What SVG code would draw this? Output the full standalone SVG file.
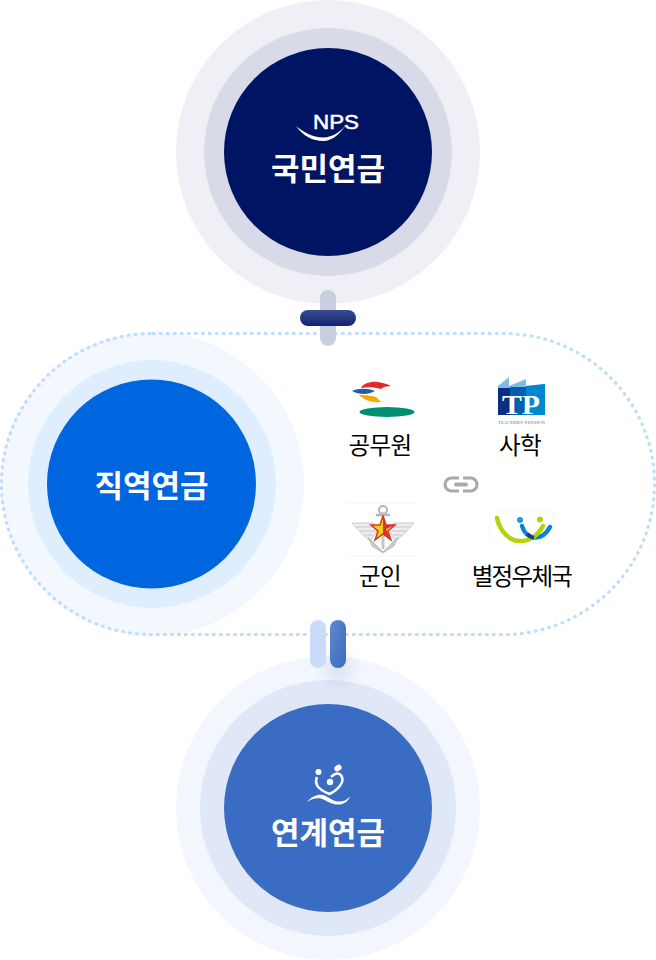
<svg xmlns="http://www.w3.org/2000/svg" width="656" height="960" viewBox="0 0 656 960">
<defs>
<style>
text{font-family:"Noto Sans CJK KR","Noto Sans",sans-serif;text-anchor:middle}
.t{font-size:31px;font-weight:700;fill:#fff}
.l{font-size:23.5px;fill:#000;letter-spacing:-.6px}
</style>
<linearGradient id="navy" x1="0" y1="0" x2="0" y2="1"><stop offset="0" stop-color="#3a4a94"/><stop offset="1" stop-color="#14236f"/></linearGradient>
<linearGradient id="blue" x1="0" y1="0" x2="1" y2="1"><stop offset="0" stop-color="#6088d0"/><stop offset="1" stop-color="#3a6cc0"/></linearGradient>
<radialGradient id="sh"><stop offset="0" stop-color="#8a9ac8" stop-opacity=".22"/><stop offset="1" stop-color="#8a9ac8" stop-opacity="0"/></radialGradient>
</defs>
<g id="node-national">
<circle cx="328" cy="152" r="152" fill="#eff0f6"/>
<circle cx="328" cy="152" r="124" fill="#d9dae8"/>
<circle cx="328" cy="152" r="104" fill="#001464"/>
<path d="M296 126C303 136 313 141 323 141C333 141 341 133 347 123C342 131 333 137.500 323 137.500C313 137.500 303 132 296 126Z" fill="#fff"/>
<text x="336" y="128.500" textLength="46" lengthAdjust="spacingAndGlyphs" style="font-family:'Liberation Sans',sans-serif;font-size:20px;font-weight:400" fill="#fff" stroke="#fff" stroke-width=".5">NPS</text>
<text class="t" x="328" y="180">국민연금</text>
</g>
<g id="node-occupational">
<circle cx="152" cy="484" r="152" fill="#f3f8ff"/>
<circle cx="152" cy="484" r="124" fill="#dfeeff"/>
<circle cx="151.500" cy="484" r="104.500" fill="#0066e0"/>
<text class="t" x="151.500" y="497">직역연금</text>
</g>
<g id="node-linked">
<circle cx="328" cy="808" r="152" fill="#f3f6fd"/>
<circle cx="328" cy="808" r="128" fill="#e0e7f6"/>
<circle cx="328" cy="808" r="104" fill="#3a6cc4"/>
<g fill="#fff">
<circle cx="318.500" cy="772" r="3"/>
<ellipse cx="338" cy="768" rx="3.800" ry="3" transform="rotate(-30 338 768)"/>
<circle cx="330" cy="782" r="3.200"/>
<path d="M307 802C312 796 318 794 323 795C329 797 332 801 338 801.500C343 802 347 800 350 796.500C348 802 343 805 337 804.500C330 804 326 800 321 798.500C316 797.500 311 799 307 802Z"/>
</g>
<path d="M317 777C313 786 322 791 329.500 794C338 790 345 782 341.500 776C339 772 335 773 331 777" fill="none" stroke="#fff" stroke-width="2.500"/>
<text class="t" x="328" y="844">연계연금</text>
</g>
<g id="node-group-frame"><rect x="1.500" y="333.500" width="653" height="301" rx="150.500" fill="none" stroke="#bedcfc" stroke-width="3" stroke-dasharray="3.500 3.500"/></g>
<g id="connectors">
<rect x="320" y="290" width="16" height="56" rx="8" fill="#c9cede"/>
<rect x="300" y="310" width="56" height="16" rx="8" fill="url(#navy)"/>
<circle cx="338" cy="668" r="24" fill="url(#sh)"/>
<rect x="310" y="620" width="16" height="48" rx="8" fill="#cbdcfb"/>
<rect x="330" y="620" width="16" height="48" rx="8" fill="url(#blue)"/>
</g>
<g id="link-icon" fill="none" stroke="#a9a9a9" stroke-width="3">
<path d="M459 478H451.500a6.500 6.500 0 0 0 0 13H459M463 478H470.500a6.500 6.500 0 0 1 0 13H463"/>
<path d="M456 484.500H466" stroke-width="4" stroke-linecap="round"/>
</g>
<g id="node-gov">
<path d="M361 388C363 383 372 381 378 382C384 383 387 384 391 386L384 387L381 389C374 387 367 387 361 388Z" fill="#e02b2b"/>
<path d="M352 391C358 388 368 388 375 391C368 395 359 395 352 391Z" fill="#1f5fa8"/>
<path d="M359 395C367 395 373 396 376 397L381 402C372 403 364 400 359 395Z" fill="#f5a800"/>
<ellipse cx="387" cy="412" rx="27.500" ry="5" fill="#008f70"/>
<text class="l" x="380" y="454">공무원</text>
</g>
<g id="node-private">
<path d="M498 386L509 377V386L526 379V386L545 384V415H498Z" fill="#7cbdee"/>
<rect x="498" y="388" width="12" height="27" fill="#0a2f80"/>
<rect x="510" y="387" width="16" height="28" fill="#0060ae"/>
<path d="M526 386L545 384V415H526Z" fill="#0087d2"/>
<text x="521" y="414" textLength="38" lengthAdjust="spacingAndGlyphs" style="font-family:'Liberation Serif',serif;font-size:27px;font-weight:700" fill="#fff">TP</text>
<text x="521.500" y="424" textLength="47" lengthAdjust="spacingAndGlyphs" style="font-family:'Liberation Serif',serif;font-size:4.500px" fill="#5a7ca8">TEACHERS' PENSION</text>
<text class="l" x="520" y="454">사학</text>
</g>
<g id="node-military">
<path d="M348 503H416M348 556H416" stroke="#f3f3fb" stroke-width="1"/>
<path d="M352 523H373L377 531L370 541L362 534ZM414 523H393L389 531L396 541L404 534Z" fill="#eeeef1" stroke="#b8b9bf" stroke-width=".7"/>
<path d="M356 527H375M360 531H375M364 535H373M410 527H391M406 531H391M402 535H393" stroke="#c4c5ca" stroke-width="1"/>
<path d="M368 537L383 552L398 537L394 546L383 553L372 546Z" fill="#c9cad0" stroke="#b5b6bc" stroke-width=".8"/>
<circle cx="383" cy="510" r="4" fill="none" stroke="#b5b5b8" stroke-width="2"/>
<path d="M376 515H390" stroke="#b5b5b8" stroke-width="2.500"/>
<path d="M383 512V549" stroke="#c6c6c8" stroke-width="3"/>
<polygon points="383,516 386,525 395,525 388,531 391,540 383,534 375,540 378,531 371,525 380,525" fill="#e8d21f" stroke="#d8352a" stroke-width="1.500"/>
<path d="M383 516V534L391 540L386 529L395 525H386Z" fill="#d8352a"/>
<text class="l" x="380" y="585">군인</text>
</g>
<g id="node-post">
<rect x="490" y="511" width="64" height="33" fill="none" stroke="#f6f7fb" stroke-width=".8"/>
<path d="M522 526C526 540 542 542 550 527" fill="none" stroke="#0a82d8" stroke-width="4.500" stroke-linecap="round"/>
<path d="M497 518C500 532 510 541 520 541C530 541 538 535 543 526" fill="none" stroke="#b4d40a" stroke-width="4.500" stroke-linecap="round"/>
<path d="M527 534Q530 537 534 538" fill="none" stroke="#123f96" stroke-width="4"/>
<circle cx="520" cy="520" r="3" fill="#2b93e0"/>
<circle cx="540" cy="519.500" r="3" fill="#b4d40a"/>
<text class="l" x="521.500" y="585" style="letter-spacing:-1.700px">별정우체국</text>
</g>
</svg>
